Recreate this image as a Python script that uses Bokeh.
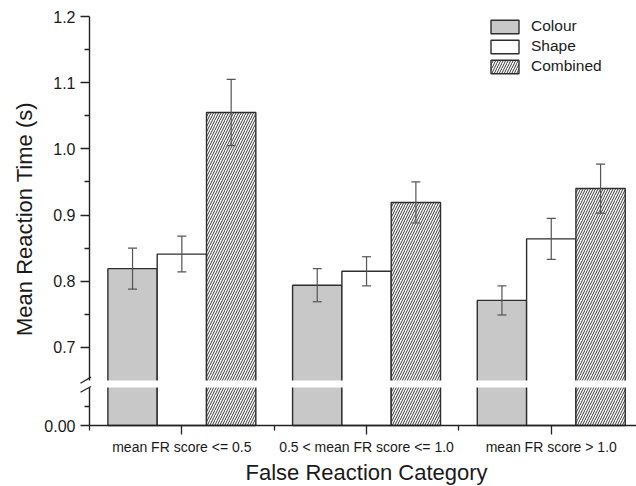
import numpy as np
from math import pi
from bokeh.plotting import figure
from bokeh.models import (FixedTicker, CustomJSTickFormatter, Whisker, TeeHead, Range1d,
                          Legend, LegendItem, ColumnDataSource)
from bokeh.core.properties import value
from bokeh.embed import file_html
from bokeh.resources import INLINE

# ---- data ----
categories = ["mean FR score <= 0.5", "0.5 < mean FR score <= 1.0", "mean FR score > 1.0"]
series_names = ["Colour", "Shape", "Combined"]
colour = [0.819, 0.794, 0.771]
colour_err = [0.031, 0.025, 0.022]
shape = [0.841, 0.815, 0.864]
shape_err = [0.027, 0.022, 0.031]
combined = [1.055, 0.919, 0.940]
combined_err = [0.050, 0.031, 0.037]
y_ticks_upper = [0.7, 0.8, 0.9, 1.0, 1.1, 1.2]
y_minor_upper = [0.75, 0.85, 0.95, 1.05, 1.15]
y_ticks_lower = [0.0]
y_minor_lower = [0.05]
x_title = "False Reaction Category"
y_title = "Mean Reaction Time (s)"

# ---- broken y axis: upper segment 0.65..1.2, lower segment 0..0.1 ----
UPPER_MIN = 0.65
LOWER_MAX = 0.1
GAP = 0.0106          # break gap, in upper-axis units
LOWER_K = 0.5742      # lower segment compression

def disp(v):
    if v >= UPPER_MIN:
        return v
    return UPPER_MIN - GAP - (LOWER_MAX - v) * LOWER_K

FONT = "Liberation Sans"
DARK = "#222222"
TXT = "#1a1a1a"
BAR_W = 0.267
offsets = [-BAR_W, 0.0, BAR_W]
styles = [
    dict(fill_color="#c8c8c8", hatch_pattern=None),
    dict(fill_color="white", hatch_pattern=None),
    dict(fill_color="white", hatch_pattern="/", hatch_color="#3a3a3a", hatch_scale=5, hatch_weight=1),
]
values = [colour, shape, combined]
errors = [colour_err, shape_err, combined_err]

X0, X1 = 0.01814, 3.4615
Y0, Y1 = 0.48982, 1.22418

p = figure(width=636, height=486, x_range=Range1d(X0, X1), y_range=Range1d(Y0, Y1),
           output_backend="svg", toolbar_location=None,
           min_border_left=0, min_border_right=0, min_border_top=0, min_border_bottom=0)
p.outline_line_color = None
p.xgrid.visible = False
p.ygrid.visible = False
p.background_fill_color = "white"
p.border_fill_color = "white"

# y axis (drawn at x = 0.5, the left edge of the first category slot)
ya = p.yaxis[0]
ya.fixed_location = 0.5
ya.bounds = (disp(0.0), y_ticks_upper[-1])
ya.ticker = FixedTicker(ticks=[disp(t) for t in y_ticks_lower + y_ticks_upper],
                        minor_ticks=[disp(t) for t in y_minor_lower + y_minor_upper])
ya.formatter = CustomJSTickFormatter(
    args=dict(umin=UPPER_MIN, lmax=LOWER_MAX, gap=GAP, k=LOWER_K),
    code="""
    if (tick >= umin - 1e-6) { return tick.toFixed(1); }
    const v = lmax - (umin - gap - tick) / k;
    return Math.abs(v).toFixed(2);
    """)

# x axis (drawn at y = 0)
xa = p.xaxis[0]
centers = list(range(1, len(categories) + 1))
xa.fixed_location = disp(0.0)
xa.bounds = (0.5, X1)
xa.ticker = FixedTicker(ticks=centers, minor_ticks=[c - 0.5 for c in centers] + [centers[-1] + 0.5])
xa.major_label_overrides = {c: lab for c, lab in zip(centers, categories)}
xa.major_label_text_font_size = "14px"
xa.major_label_standoff = 4

for ax in (xa, ya):
    ax.axis_line_color = DARK
    ax.axis_line_width = 1.4
    ax.major_tick_line_color = DARK
    ax.minor_tick_line_color = DARK
    ax.major_tick_line_width = 1.3
    ax.minor_tick_line_width = 1.3
    ax.major_tick_in = 0
    ax.major_tick_out = 9
    ax.minor_tick_in = 0
    ax.minor_tick_out = 5
    ax.major_label_text_font = FONT
    ax.major_label_text_color = TXT
ya.major_label_text_font_size = "16px"
ya.major_label_standoff = 5

legend_items = []
for name, vals, errs, off, st in zip(series_names, values, errors, offsets, styles):
    xs = np.arange(1, len(categories) + 1) + off
    src = ColumnDataSource(dict(x=xs, top=vals,
                                upper=[v + e for v, e in zip(vals, errs)],
                                lower=[v - e for v, e in zip(vals, errs)]))
    kw = dict(x="x", top="top", bottom=disp(0.0), width=BAR_W, source=src,
              line_color="#2e2e2e", line_width=1.4, fill_color=st["fill_color"])
    if st["hatch_pattern"]:
        kw.update(hatch_pattern=st["hatch_pattern"], hatch_color=st["hatch_color"],
                  hatch_scale=st["hatch_scale"], hatch_weight=st["hatch_weight"])
    r = p.vbar(**kw)
    w = Whisker(source=src, base="x", upper="upper", lower="lower", level="annotation",
                line_color="#555555", line_width=1.2,
                upper_head=TeeHead(size=9, line_color="#555555", line_width=1.2),
                lower_head=TeeHead(size=9, line_color="#555555", line_width=1.2))
    p.add_layout(w)
    legend_items.append(LegendItem(label=name, renderers=[r]))

# axis break: white band across bars and axis line, then two slashes
p.quad(left=[0.45], right=[X1], bottom=[disp(LOWER_MAX)], top=[UPPER_MIN],
       fill_color="white", line_color=None, level="overlay")
p.segment(x0=[0.4513, 0.4513], y0=[0.6459, 0.6323], x1=[0.5081, 0.5081], y1=[0.6550, 0.6409],
          line_color=DARK, line_width=1.3, level="overlay")

# axis titles
p.text(x=[0.148], y=[0.894], text=[y_title], angle=pi / 2, text_align="center",
       text_baseline="middle", text_font=value(FONT), text_font_size="22px", text_color=TXT)
p.text(x=[float(np.mean(centers))], y=[0.5115], text=[x_title], text_align="center",
       text_baseline="alphabetic", text_font=value(FONT), text_font_size="22px", text_color=TXT)

legend = Legend(items=legend_items, location=(487, 411), glyph_width=35, glyph_height=17,
                label_height=17, label_standoff=9, spacing=2, padding=0, margin=0,
                label_text_font=FONT, label_text_font_size="15.5px", label_text_color=TXT,
                border_line_color=None, background_fill_alpha=0)
p.add_layout(legend)

open("out.html", "w").write(file_html(p, INLINE))
